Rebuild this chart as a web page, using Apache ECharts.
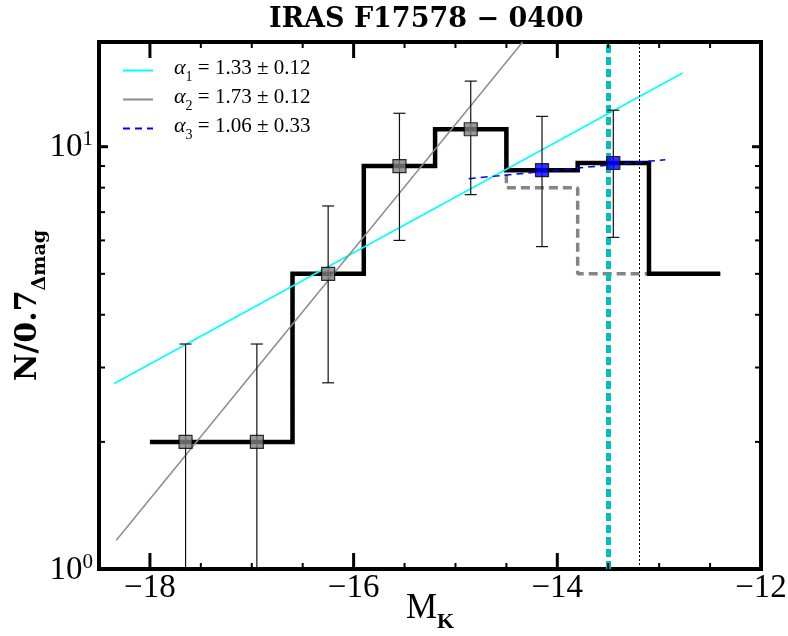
<!DOCTYPE html>
<html>
<head>
<meta charset="utf-8">
<script src="https://cdn.jsdelivr.net/npm/echarts@6/dist/echarts.min.js"></script>
<style>
html, body { margin: 0; padding: 0; background: #fff; }
#main { width: 788px; height: 636px; }
</style>
</head>
<body>
<div id="main"></div>
<script>
// histogram (bin edges and counts per bin)
var binEdges = [-18.0, -17.3, -16.6, -15.9, -15.2, -14.5, -13.8, -13.1, -12.4];
var histCorr = [2, 2, 5, 9, 11, 8.8, 9.15, 5];
var histRaw = [2, 2, 5, 9, 11, 8, 5, 5];

// points with error bars
var pointX = [-17.65, -16.95, -16.25, -15.55, -14.85, -14.15, -13.45];
var pointY = [2, 2, 5, 9, 11, 8.8, 9.15];
var errLow = [0.59, 0.59, 2.76, 6.0, 7.7, 5.8, 6.1];
var errHigh = [3.41, 3.41, 7.24, 12.0, 14.3, 11.8, 12.2];
var pointFit = [0, 0, 0, 0, 0, 1, 1];

// fitted power laws (end points)
var fit1 = [[-18.35, 2.75], [-12.77, 14.95]];
var fit2 = [[-18.33, 1.17], [-14.34, 17.7]];
var fit3 = [[-14.87, 8.40], [-12.94, 9.32]];
var fitAlpha = [['1', '1.33', '0.12'], ['2', '1.73', '0.12'], ['3', '1.06', '0.33']];

// vertical limits
var limCyan = -13.5;
var limDotted = -13.2;

// axes
var xMin = -18.5, xMax = -12;
var yMin = 1, yMax = 17.7;
var xMajor = [-18, -16, -14, -12];
var xMinor = [-17.5, -17, -16.5, -15.5, -15, -14.5, -13.5, -13, -12.5];
var yMajor = [1, 10];
var yMinor = [2, 3, 4, 5, 6, 7, 8, 9];

var serif = '"Liberation Serif", "DejaVu Serif", serif';
var wide = '"DejaVu Serif", serif';

function stepData(vals) {
    return binEdges.map(function (e, i) {
        return [e, vals[Math.min(i, vals.length - 1)]];
    });
}

function xTickItem(params, api) {
    var cs = params.coordSys;
    var x = api.coord([api.value(0), yMin])[0];
    var major = params.dataIndex < xMajor.length;
    var len = major ? 16 : 6;
    var lw = major ? 3 : 2;
    var bot = cs.y + cs.height, top = cs.y;
    return {
        type: 'group',
        children: [
            {type: 'line', shape: {x1: x, y1: bot, x2: x, y2: bot - len}, style: {stroke: '#000', lineWidth: lw}},
            {type: 'line', shape: {x1: x, y1: top, x2: x, y2: top + len}, style: {stroke: '#000', lineWidth: lw}}
        ]
    };
}

function yTickItem(params, api) {
    var cs = params.coordSys;
    var y = api.coord([xMin, api.value(1)])[1];
    var major = params.dataIndex < yMajor.length;
    var len = major ? 9 : 6;
    var lw = major ? 3 : 2;
    var l = cs.x, r = cs.x + cs.width;
    return {
        type: 'group',
        children: [
            {type: 'line', shape: {x1: l, y1: y, x2: l + len, y2: y}, style: {stroke: '#000', lineWidth: lw}},
            {type: 'line', shape: {x1: r, y1: y, x2: r - len, y2: y}, style: {stroke: '#000', lineWidth: lw}}
        ]
    };
}

function errItem(params, api) {
    var cs = params.coordSys;
    var x = api.coord([api.value(0), api.value(1)])[0];
    var yLo = api.coord([api.value(0), api.value(1)])[1];
    var yHi = api.coord([api.value(0), api.value(2)])[1];
    var bottom = cs.y + cs.height;
    var st = {stroke: '#111', lineWidth: 1.2};
    var kids = [
        {type: 'line', shape: {x1: x, y1: yHi, x2: x, y2: Math.min(yLo, bottom)}, style: st},
        {type: 'line', shape: {x1: x - 6, y1: yHi, x2: x + 6, y2: yHi}, style: st}
    ];
    if (yLo <= bottom) {
        kids.push({type: 'line', shape: {x1: x - 6, y1: yLo, x2: x + 6, y2: yLo}, style: st});
    }
    return {type: 'group', children: kids};
}

var chart = echarts.init(document.getElementById('main'));
var option = {
    animation: false,
    backgroundColor: '#fff',
    title: {
        text: 'IRAS F17578 − 0400',
        left: 264,
        top: 1,
        textStyle: {fontFamily: wide, fontWeight: 'bold', fontSize: 27, color: '#000'}
    },
    grid: {
        left: 99, right: 27, top: 42, bottom: 67,
        outerBoundsMode: 'none',
        containLabel: false,
        show: true, borderColor: '#000', borderWidth: 4
    },
    legend: {
        data: ['fit1', 'fit2', 'fit3'],
        orient: 'vertical',
        left: 117,
        top: 52,
        itemWidth: 30,
        itemHeight: 12,
        itemGap: 2,
        itemStyle: {color: 'rgba(0,0,0,0)', borderWidth: 0, opacity: 0},
        formatter: function (name) {
            var a = fitAlpha[Number(name.slice(3)) - 1];
            return '{g|α}{s|' + a[0] + '}{t| = ' + a[1] + ' ± ' + a[2] + '}';
        },
        textStyle: {
            fontFamily: serif,
            color: '#000',
            rich: {
                g: {fontFamily: serif, fontStyle: 'italic', fontSize: 22, padding: [0, 0, 5, 16], verticalAlign: 'bottom'},
                s: {fontFamily: serif, fontSize: 14, verticalAlign: 'bottom'},
                t: {fontFamily: serif, fontSize: 21, padding: [0, 0, 5, 0], verticalAlign: 'bottom'}
            }
        }
    },
    xAxis: {
        type: 'value',
        min: xMin,
        max: xMax,
        splitLine: {show: false},
        axisLine: {show: false},
        axisTick: {show: false},
        axisLabel: {
            customValues: xMajor,
            margin: 3,
            fontFamily: serif,
            fontSize: 33,
            color: '#000',
            formatter: function (v) { return (v < 0 ? '−' : '') + Math.abs(v); }
        },
        name: '{m|M}{k|K}',
        nameLocation: 'middle',
        nameGap: 22,
        nameMoveOverlap: false,
        nameTextStyle: {
            rich: {
                m: {fontFamily: serif, fontSize: 35, color: '#000', padding: [0, 0, 7, 0], verticalAlign: 'bottom'},
                k: {fontFamily: serif, fontSize: 22, fontWeight: 'bold', color: '#000', verticalAlign: 'bottom'}
            }
        }
    },
    yAxis: {
        type: 'log',
        logBase: 10,
        min: yMin,
        max: yMax,
        splitLine: {show: false},
        axisLine: {show: false},
        axisTick: {show: false},
        axisLabel: {
            customValues: yMajor,
            margin: 6,
            formatter: function (v) {
                return '{b|10}{p|' + Math.round(Math.log10(v)) + '}';
            },
            rich: {
                b: {fontFamily: serif, fontSize: 33, color: '#000', verticalAlign: 'bottom'},
                p: {fontFamily: serif, fontSize: 21, color: '#000', padding: [0, 0, 14, 0], verticalAlign: 'bottom'}
            }
        },
        name: '{n|N/0.7}{d|Δmag}',
        nameLocation: 'middle',
        nameGap: 49,
        nameMoveOverlap: false,
        nameTextStyle: {
            rich: {
                n: {fontFamily: wide, fontSize: 30, fontWeight: 'bold', color: '#000', padding: [0, 0, 7, 0], verticalAlign: 'bottom'},
                d: {fontFamily: wide, fontSize: 19, fontWeight: 'bold', color: '#000', verticalAlign: 'bottom'}
            }
        }
    },
    series: [
        {
            name: 'raw',
            type: 'line',
            step: 'end',
            symbol: 'none',
            z: 2,
            data: stepData(histRaw),
            lineStyle: {color: '#858585', width: 3.5, type: [9, 5]}
        },
        {
            name: 'corr',
            type: 'line',
            step: 'end',
            symbol: 'none',
            z: 3,
            data: stepData(histCorr),
            lineStyle: {color: '#000', width: 4.5, join: 'miter'}
        },
        {
            name: 'fit1',
            type: 'line',
            symbol: 'none',
            z: 4,
            data: fit1,
            itemStyle: {color: '#00ffff'},
            lineStyle: {color: '#00ffff', width: 1.6}
        },
        {
            name: 'fit2',
            type: 'line',
            symbol: 'none',
            z: 4,
            data: fit2,
            itemStyle: {color: '#8c8c8c'},
            lineStyle: {color: '#8c8c8c', width: 1.5}
        },
        {
            name: 'fit3',
            type: 'line',
            symbol: 'none',
            z: 4,
            data: fit3,
            itemStyle: {color: '#0000ff'},
            lineStyle: {color: '#0000ff', width: 1.5, type: [7, 5]}
        },
        {
            name: 'limits',
            type: 'line',
            data: [],
            z: 5,
            markLine: {
                silent: true,
                symbol: 'none',
                label: {show: false},
                data: [
                    {xAxis: limCyan, lineStyle: {color: '#00bfbf', width: 5, type: [8, 4]}},
                    {xAxis: limDotted, lineStyle: {color: '#000', width: 1, type: [2, 2]}}
                ]
            }
        },
        {
            name: 'err',
            type: 'custom',
            z: 6,
            renderItem: errItem,
            encode: {x: 0, y: [1, 2]},
            data: pointX.map(function (x, i) { return [x, errLow[i], errHigh[i]]; })
        },
        {
            name: 'points',
            type: 'scatter',
            symbol: 'rect',
            symbolSize: 13,
            z: 7,
            data: pointX.map(function (x, i) {
                return {
                    value: [x, pointY[i]],
                    itemStyle: {color: pointFit[i] ? '#0000ff' : '#808080'}
                };
            }),
            itemStyle: {borderColor: '#000', borderWidth: 1.2}
        },
        {
            name: 'xticks',
            type: 'custom',
            z: 8,
            renderItem: xTickItem,
            data: xMajor.concat(xMinor).map(function (v) { return [v, yMin]; })
        },
        {
            name: 'yticks',
            type: 'custom',
            z: 8,
            renderItem: yTickItem,
            data: yMajor.concat(yMinor).map(function (v) { return [xMin, v]; })
        }
    ]
};
chart.setOption(option);
</script>
</body>
</html>
